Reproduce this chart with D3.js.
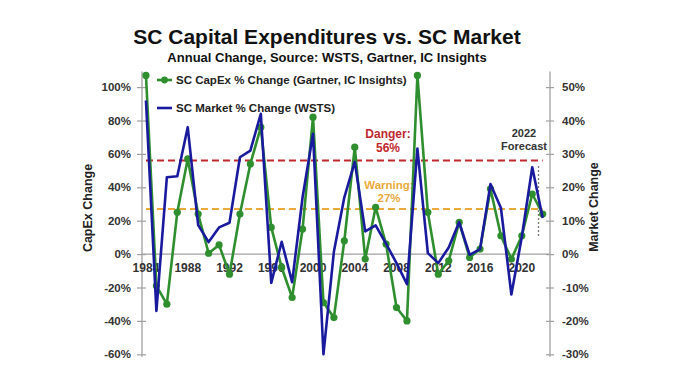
<!DOCTYPE html>
<html><head><meta charset="utf-8">
<script src="https://cdn.jsdelivr.net/npm/d3@7"></script>
<style>body{margin:0;background:#fff}svg{display:block}text{font-family:"Liberation Sans",Arial,sans-serif;font-weight:bold}</style>
</head><body><svg id="c" width="700" height="374"></svg>
<script>
const years = d3.range(1984, 2023);
const capex = [107,-19,-30,25,57,24,0.5,5.5,-12,24,54,76,16,-8,-26,15,82,-29,-38,8,64,-3,28,6,-32,-40,107,25,-12,-4,19,-2,3,39,11,-3,11,36,24];
const market = [46,-17,23,23.3,38,8.7,3.6,8,9.4,29,31,42,-8.6,3.7,-8.4,17,36,-30,0.7,17,27.6,6.8,8.6,3.1,-2.7,-9,31.6,0.3,-2.7,2,9.6,-0.2,1.5,21,13.8,-12.1,5.1,26,10.8];
const capexTicks = [-60,-40,-20,0,20,40,60,80,100];
const marketTicks = [-30,-20,-10,0,10,20,30,40,50];
const yearTicks = [1984,1988,1992,1996,2000,2004,2008,2012,2016,2020];
const danger = 56, warning = 27, forecastYear = 2021.6;

const svg = d3.select("#c");
const x = d3.scaleLinear().domain([1983.62, 2022.7]).range([142, 550]);
const yL = d3.scaleLinear().domain([-60, 110]).range([354.3, 70.4]);
const yR = d3.scaleLinear().domain([-30, 55]).range([354.3, 70.4]);
const green = "#2f8f2f", blue = "#1a1a9e", axisCol = "#a0a0a0";

// Titles
svg.append("text").attr("x",327).attr("y",44).attr("text-anchor","middle").attr("font-size",21).attr("fill","#111").text("SC Capital Expenditures vs. SC Market");
svg.append("text").attr("x",327).attr("y",62).attr("text-anchor","middle").attr("font-size",13).attr("fill","#111").text("Annual Change, Source: WSTS, Gartner, IC Insights");

// Axes
const gL = svg.append("g").attr("transform","translate(142,0)")
  .call(d3.axisLeft(yL).tickValues(capexTicks).tickFormat(d=>d+"%").tickSize(5).tickPadding(6));
const gR = svg.append("g").attr("transform","translate(550,0)")
  .call(d3.axisRight(yR).tickValues(marketTicks).tickFormat(d=>d+"%").tickSize(4).tickPadding(8));
[gL,gR].forEach(g=>{
  g.selectAll(".tick line").attr("stroke",axisCol).attr("stroke-width",1.2);
  g.selectAll(".tick text").attr("fill","#333").attr("font-size",11.5).attr("font-family","Liberation Sans, Arial").attr("font-weight","bold");
});
gL.select(".domain").remove(); gR.select(".domain").remove();
svg.append("line").attr("x1",142).attr("x2",142).attr("y1",yL(110)+1).attr("y2",yL(-61.5)).attr("stroke",axisCol).attr("stroke-width",1.3);
svg.append("line").attr("x1",550).attr("x2",550).attr("y1",yL(110)+1).attr("y2",yL(-61.5)).attr("stroke",axisCol).attr("stroke-width",1.3);
gL.selectAll(".tick line").attr("x1",4);
gR.selectAll(".tick line").attr("x1",-4);

// x axis at zero
svg.append("line").attr("x1",142).attr("x2",550).attr("y1",yL(0)).attr("y2",yL(0)).attr("stroke",axisCol).attr("stroke-width",1.3);
svg.append("g").selectAll("text").data(yearTicks).join("text")
  .attr("x",d=>x(d)).attr("y",yL(0)+18).attr("text-anchor","middle").attr("font-size",12).attr("fill","#333").text(d=>d);

// axis titles
svg.append("text").attr("transform",`translate(92,208) rotate(-90)`).attr("text-anchor","middle").attr("font-size",12.5).attr("fill","#222").text("CapEx Change");
svg.append("text").attr("transform",`translate(598,207) rotate(-90)`).attr("text-anchor","middle").attr("font-size",12.5).attr("fill","#222").text("Market Change");

// reference lines
svg.append("line").attr("x1",x(1984)).attr("x2",x(2022)).attr("y1",yL(danger)).attr("y2",yL(danger)).attr("stroke","#c0282e").attr("stroke-width",2).attr("stroke-dasharray","7,4");
svg.append("line").attr("x1",x(1984)).attr("x2",x(2022)).attr("y1",yL(warning)).attr("y2",yL(warning)).attr("stroke","#eba93a").attr("stroke-width",2).attr("stroke-dasharray","7,4");
svg.append("text").attr("x",388).attr("y",138).attr("text-anchor","middle").attr("font-size",12).attr("fill","#c0282e").text("Danger:");
svg.append("text").attr("x",388).attr("y",152).attr("text-anchor","middle").attr("font-size",12).attr("fill","#c0282e").text(danger+"%");
svg.append("text").attr("x",389).attr("y",189).attr("text-anchor","middle").attr("font-size",11.5).attr("fill","#eba93a").text("Warning:");
svg.append("text").attr("x",389).attr("y",202).attr("text-anchor","middle").attr("font-size",11.5).attr("fill","#eba93a").text(warning+"%");

// forecast marker
svg.append("line").attr("x1",x(forecastYear)).attr("x2",x(forecastYear)).attr("y1",166).attr("y2",236).attr("stroke","#777").attr("stroke-width",1.3).attr("stroke-dasharray","2,2");
svg.append("text").attr("x",524).attr("y",137).attr("text-anchor","middle").attr("font-size",11).attr("fill","#333").text("2022");
svg.append("text").attr("x",524).attr("y",150).attr("text-anchor","middle").attr("font-size",11).attr("fill","#333").text("Forecast");

// series
const cData = years.map((yr,i)=>({yr, v:capex[i]}));
const mData = years.map((yr,i)=>({yr, v:market[i]}));
svg.append("path").datum(cData).attr("fill","none").attr("stroke",green).attr("stroke-width",2.6).attr("stroke-linejoin","round")
  .attr("d", d3.line().x(d=>x(d.yr)).y(d=>yL(d.v)));
svg.append("g").selectAll("circle").data(cData).join("circle").attr("cx",d=>x(d.yr)).attr("cy",d=>yL(d.v)).attr("r",3.6).attr("fill",green);
svg.append("path").datum(mData).attr("fill","none").attr("stroke",blue).attr("stroke-width",2.6).attr("stroke-linejoin","round")
  .attr("d", d3.line().x(d=>x(d.yr)).y(d=>yR(d.v)));

// legend
svg.append("line").attr("x1",157).attr("x2",172).attr("y1",80).attr("y2",80).attr("stroke",green).attr("stroke-width",2.6);
svg.append("circle").attr("cx",164.5).attr("cy",80).attr("r",3.4).attr("fill",green);
svg.append("text").attr("x",176).attr("y",84).attr("font-size",11.5).attr("fill","#222").text("SC CapEx % Change (Gartner, IC Insights)");
svg.append("line").attr("x1",157).attr("x2",172).attr("y1",108).attr("y2",108).attr("stroke",blue).attr("stroke-width",2.6);
svg.append("text").attr("x",176).attr("y",112).attr("font-size",11.5).attr("fill","#222").text("SC Market % Change (WSTS)");
</script></body></html>
